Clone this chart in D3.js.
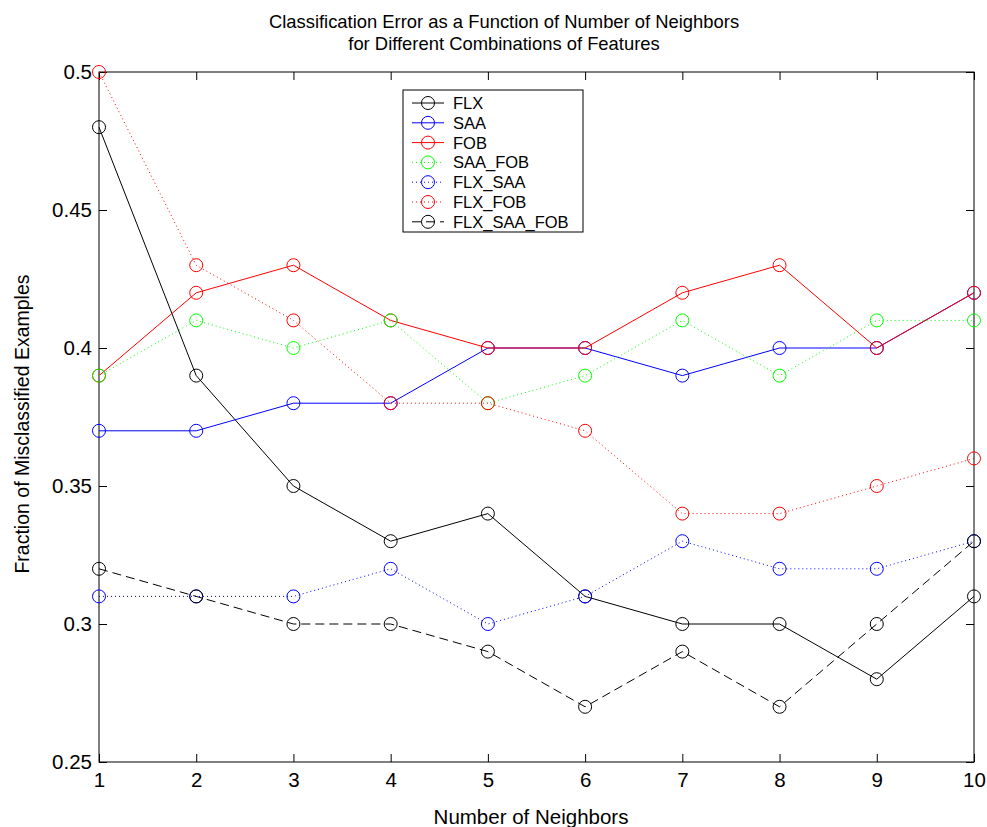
<!DOCTYPE html>
<html>
<head>
<meta charset="utf-8">
<script src="https://cdn.jsdelivr.net/npm/d3@7/dist/d3.min.js"></script>
<style>
  html, body { margin: 0; padding: 0; background: #fff; }
  svg { display: block; font-family: Arial, "Liberation Sans", sans-serif; }
</style>
</head>
<body>
<svg id="chart" width="987" height="827"></svg>
<script>
// Number of neighbours (k) on the x axis
const neighbors = [1, 2, 3, 4, 5, 6, 7, 8, 9, 10];

// Fraction of misclassified examples for each feature combination
const flx         = [0.48, 0.39, 0.35, 0.33, 0.34, 0.31, 0.30, 0.30, 0.28, 0.31];
const saa         = [0.37, 0.37, 0.38, 0.38, 0.40, 0.40, 0.39, 0.40, 0.40, 0.42];
const fob         = [0.39, 0.42, 0.43, 0.41, 0.40, 0.40, 0.42, 0.43, 0.40, 0.42];
const saaFob      = [0.39, 0.41, 0.40, 0.41, 0.38, 0.39, 0.41, 0.39, 0.41, 0.41];
const flxSaa      = [0.31, 0.31, 0.31, 0.32, 0.30, 0.31, 0.33, 0.32, 0.32, 0.33];
const flxFob      = [0.50, 0.43, 0.41, 0.38, 0.38, 0.37, 0.34, 0.34, 0.35, 0.36];
const flxSaaFob   = [0.32, 0.31, 0.30, 0.30, 0.29, 0.27, 0.29, 0.27, 0.30, 0.33];

const seriesNames = ["FLX", "SAA", "FOB", "SAA_FOB", "FLX_SAA", "FLX_FOB", "FLX_SAA_FOB"];
const yTicks = [0.25, 0.3, 0.35, 0.4, 0.45, 0.5];
const yTickLabels = ["0.25", "0.3", "0.35", "0.4", "0.45", "0.5"];

const titleLines = ["Classification Error as a Function of Number of Neighbors",
                    "for Different Combinations of Features"];
const xLabel = "Number of Neighbors";
const yLabel = "Fraction of Misclassified Examples";

// Line styles per series
const styles = [
  { color: "#000000", dash: null },
  { color: "#0000ff", dash: null },
  { color: "#ff0000", dash: null },
  { color: "#00ff00", dash: "1,3" },
  { color: "#0000ff", dash: "1,3" },
  { color: "#ff0000", dash: "1,3" },
  { color: "#000000", dash: "9,5" }
];

const seriesValues = [flx, saa, fob, saaFob, flxSaa, flxFob, flxSaaFob];
const series = seriesNames.map((name, i) => ({
  name,
  values: seriesValues[i].map((v, j) => ({ k: neighbors[j], v })),
  ...styles[i]
}));

const svg = d3.select("#chart");
const margin = { left: 99, top: 72, right: 987 - 974, bottom: 827 - 762 };
const W = 987 - margin.left - margin.right;
const H = 827 - margin.top - margin.bottom;

const x = d3.scaleLinear().domain([1, 10]).range([0, W]);
const y = d3.scaleLinear().domain([0.25, 0.5]).range([H, 0]);

const g = svg.append("g").attr("transform", `translate(${margin.left},${margin.top})`);

// Box frame
g.append("rect")
  .attr("x", 0).attr("y", 0).attr("width", W).attr("height", H)
  .attr("fill", "none").attr("stroke", "#000").attr("stroke-width", 1);

const tickLen = 8;
const axisColor = "#000";
const tickFont = 20.5;

// Left axis: labels outside, ticks pointing inward
const yAxisL = d3.axisLeft(y).tickValues(yTicks)
  .tickFormat((d, i) => yTickLabels[i]).tickSizeInner(-tickLen).tickSizeOuter(0).tickPadding(7);
const gL = g.append("g").call(yAxisL);
gL.select(".domain").remove();
gL.selectAll("line").attr("stroke", axisColor);
gL.selectAll("text").attr("font-size", tickFont).attr("fill", "#000")
  .attr("font-family", "Arial, 'Liberation Sans', sans-serif");

// Right axis ticks only
const yAxisR = d3.axisRight(y).tickValues(yTicks).tickFormat("").tickSizeInner(-tickLen).tickSizeOuter(0);
const gR = g.append("g").attr("transform", `translate(${W},0)`).call(yAxisR);
gR.select(".domain").remove();
gR.selectAll("line").attr("stroke", axisColor);

// Bottom axis
const xAxisB = d3.axisBottom(x).tickValues(neighbors).tickFormat(d3.format("d"))
  .tickSizeInner(-tickLen).tickSizeOuter(0).tickPadding(10);
const gB = g.append("g").attr("transform", `translate(0,${H})`).call(xAxisB);
gB.select(".domain").remove();
gB.selectAll("line").attr("stroke", axisColor);
gB.selectAll("text").attr("font-size", tickFont).attr("fill", "#000")
  .attr("font-family", "Arial, 'Liberation Sans', sans-serif");

// Top axis ticks only
const xAxisT = d3.axisTop(x).tickValues(neighbors).tickFormat("").tickSizeInner(-tickLen).tickSizeOuter(0);
const gT = g.append("g").call(xAxisT);
gT.select(".domain").remove();
gT.selectAll("line").attr("stroke", axisColor);

// Series lines and circle markers
const line = d3.line().x(d => x(d.k)).y(d => y(d.v));
const markerR = 6.5;

series.forEach(s => {
  const sg = g.append("g").attr("class", "series");
  sg.append("path")
    .attr("d", line(s.values))
    .attr("fill", "none")
    .attr("stroke", s.color)
    .attr("stroke-width", 1)
    .attr("stroke-dasharray", s.dash);
  sg.selectAll("circle").data(s.values).join("circle")
    .attr("cx", d => x(d.k)).attr("cy", d => y(d.v)).attr("r", markerR)
    .attr("fill", "none").attr("stroke", s.color).attr("stroke-width", 1);
});

// Title
svg.append("g").selectAll("text").data(titleLines).join("text")
  .attr("x", 504).attr("y", (d, i) => 28 + i * 22)
  .attr("text-anchor", "middle").attr("font-size", 18.4).attr("fill", "#000")
  .text(d => d);

// Axis labels
svg.append("text")
  .attr("x", 531).attr("y", 824)
  .attr("text-anchor", "middle").attr("font-size", 20.5).attr("fill", "#000")
  .text(xLabel);

svg.append("text")
  .attr("transform", `translate(29,424) rotate(-90)`)
  .attr("text-anchor", "middle").attr("font-size", 19.5).attr("fill", "#000")
  .text(yLabel);

// Legend
const legend = svg.append("g").attr("transform", "translate(403,90)");
legend.append("rect")
  .attr("x", 0).attr("y", 0).attr("width", 180).attr("height", 142)
  .attr("fill", "#fff").attr("stroke", "#000").attr("stroke-width", 1);

series.forEach((s, i) => {
  const yy = 13 + i * 19.8;
  const row = legend.append("g").attr("transform", `translate(0,${yy})`);
  row.append("line")
    .attr("x1", 9).attr("x2", 41).attr("y1", 0).attr("y2", 0)
    .attr("stroke", s.color).attr("stroke-width", 1)
    .attr("stroke-dasharray", s.dash);
  row.append("circle")
    .attr("cx", 25).attr("cy", 0).attr("r", markerR)
    .attr("fill", "none").attr("stroke", s.color).attr("stroke-width", 1);
  row.append("text")
    .attr("x", 50).attr("y", 0).attr("dy", "0.36em")
    .attr("font-size", 16.5).attr("fill", "#000")
    .text(s.name);
});
</script>
</body>
</html>
